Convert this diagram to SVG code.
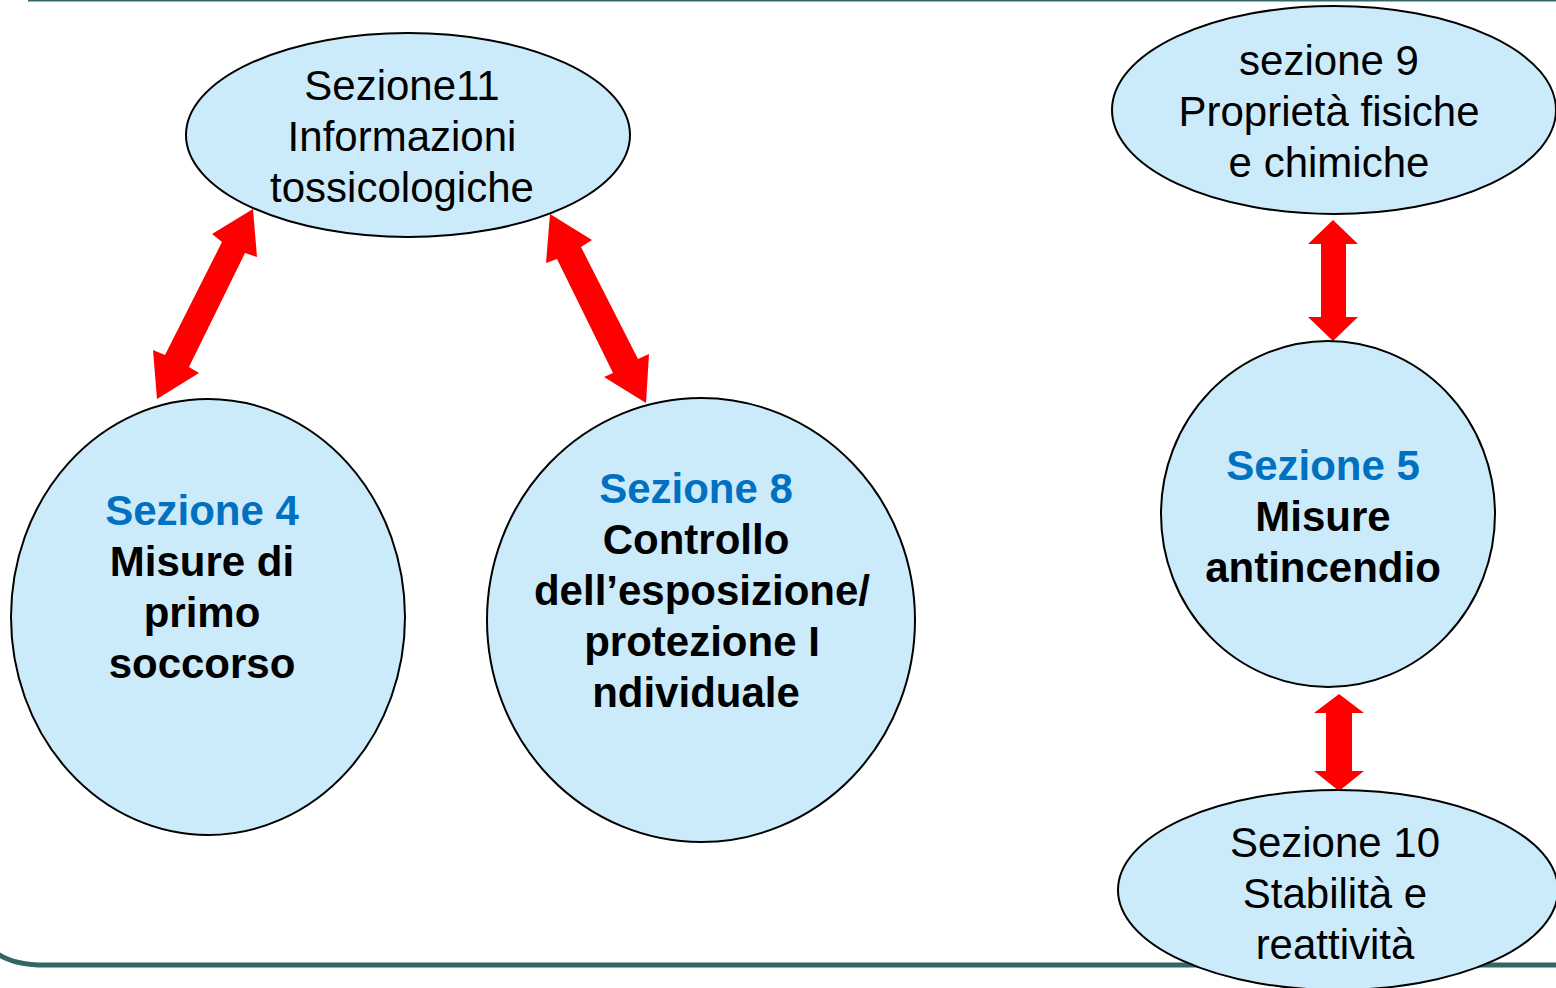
<svg xmlns="http://www.w3.org/2000/svg" width="1556" height="988" viewBox="0 0 1556 988">
<style>
.n{fill:#CCEBFA;stroke:#000;stroke-width:2}
.t{font-family:"Liberation Sans",Arial,sans-serif;font-size:42px;text-anchor:middle;fill:#000}
.b{font-weight:bold}
.h{fill:#0070C0;font-weight:bold}
.a{fill:#FF0000}
.frame{fill:none;stroke:#336666}
</style>
<rect width="1556" height="988" fill="#fff"/>
<line class="frame" x1="28" y1="0.5" x2="1556" y2="0.5" stroke-width="2"/>
<path class="frame" d="M-5,952 Q12,965 45,965 L1556,965" stroke-width="5"/>
<g id="connectors">
<polygon class="a" points="253,209 257,257 245,253 189,367 199,373 157,399 153,350 165,355 222,242 212,234"/>
<polygon class="a" points="550,214 592,240 581,247 638,359 649,354 646,403 604,377 613,373 557,259 546,263"/>
<polygon class="a" points="1333,220 1358,244 1346,244 1346,317 1358,317 1333,341 1308,317 1321,317 1321,244 1308,244"/>
<polygon class="a" points="1339,694 1364,713 1352,713 1352,771 1364,771 1339,791 1314,771 1326,771 1326,713 1314,713"/>
</g>
<g id="n11">
<ellipse class="n" cx="408" cy="135" rx="222" ry="102"/>
<text class="t" x="402" y="100">Sezione11</text>
<text class="t" x="402" y="151">Informazioni</text>
<text class="t" x="402" y="202">tossicologiche</text>
</g>
<g id="n4">
<ellipse class="n" cx="208" cy="617" rx="197" ry="218"/>
<text class="t h" x="202" y="525">Sezione 4</text>
<text class="t b" x="202" y="576">Misure di</text>
<text class="t b" x="202" y="627">primo</text>
<text class="t b" x="202" y="678">soccorso</text>
</g>
<g id="n8">
<ellipse class="n" cx="701" cy="620" rx="214" ry="222"/>
<text class="t h" x="696" y="503">Sezione 8</text>
<text class="t b" x="696" y="554">Controllo</text>
<text class="t b" x="702" y="605">dell’esposizione/</text>
<text class="t b" x="702" y="656">protezione I</text>
<text class="t b" x="696" y="707">ndividuale</text>
</g>
<g id="n9">
<ellipse class="n" cx="1334" cy="110" rx="222" ry="104"/>
<text class="t" x="1329" y="75">sezione 9</text>
<text class="t" x="1329" y="126">Proprietà fisiche</text>
<text class="t" x="1329" y="177">e chimiche</text>
</g>
<g id="n5">
<ellipse class="n" cx="1328" cy="514" rx="167" ry="173"/>
<text class="t h" x="1323" y="480">Sezione 5</text>
<text class="t b" x="1323" y="531">Misure</text>
<text class="t b" x="1323" y="582">antincendio</text>
</g>
<g id="n10">
<ellipse class="n" cx="1338" cy="890" rx="220" ry="100"/>
<text class="t" x="1335" y="857">Sezione 10</text>
<text class="t" x="1335" y="908">Stabilità e</text>
<text class="t" x="1335" y="959">reattività</text>
</g>
</svg>
